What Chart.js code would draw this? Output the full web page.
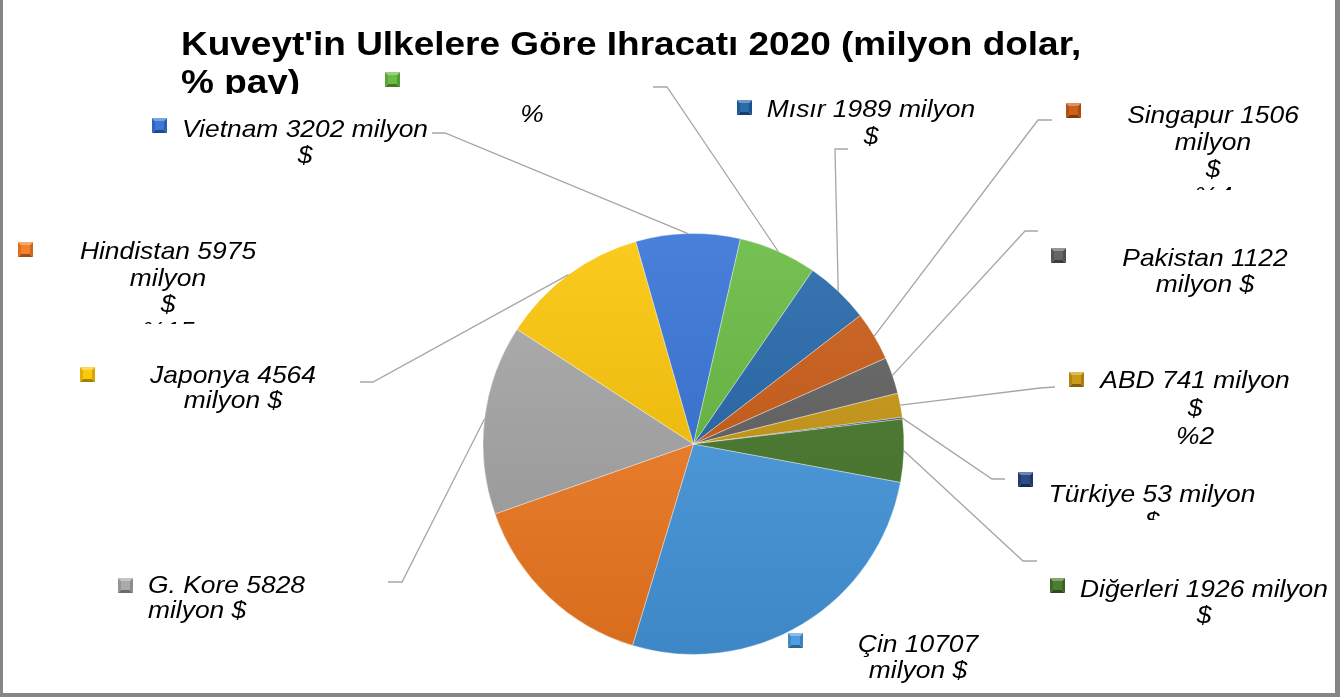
<!DOCTYPE html>
<html>
<head>
<meta charset="utf-8">
<script src="https://cdn.jsdelivr.net/npm/chart.js"></script>
<style>
body{margin:0;background:#fff;overflow:hidden}
canvas{display:block}
</style>
</head>
<body>
<canvas id="myChart" width="1340" height="697"></canvas>
<script>
const countries = ['Çin', 'Hindistan', 'G. Kore', 'Japonya', 'Vietnam', '', 'Mısır', 'Singapur', 'Pakistan', 'ABD', 'Türkiye', 'Diğerleri'];
const values = [10707, 5975, 5828, 4564, 3202, 2400, 1989, 1506, 1122, 741, 53, 1926];
const sliceColors = ['#4699e1', '#f47b20', '#a5a5a5', '#fcc400', '#3070d5', '#62b83b', '#1f63a8', '#c9570f', '#5e5e5e', '#c8950e', '#22427f', '#437628'];
const labelTexts = [
  ['{n} {v}', 'milyon $', '%{p}'],
  ['{n} {v}', 'milyon', '$', '%{p}'],
  ['{n} {v}', 'milyon $', '%{p}'],
  ['{n} {v}', 'milyon $', '%{p}'],
  ['{n} {v} milyon', '$', '%{p}'],
  ['%'],
  ['{n} {v} milyon', '$', '%{p}'],
  ['{n} {v}', 'milyon', '$', '%{p}'],
  ['{n} {v}', 'milyon $', '%{p}'],
  ['{n} {v} milyon', '$', '%{p}'],
  ['{n} {v} milyon', '$', '%{p}'],
  ['{n} {v} milyon', '$', '%{p}']
];
const titleLines = ["Kuveyt'in Ulkelere Göre Ihracatı 2020 (milyon dolar,", '% pay)'];

// where each label box sits: marker, text anchor, line height, clip bottom, leader elbow
const labelBoxes = [
  {m: [788, 633], x: 918, y: 652, lh: 26, clip: 684, align: 'center', lead: null},
  {m: [18, 242], x: 168, y: 259, lh: 26.5, clip: 324, align: 'center', lead: null},
  {m: [118, 578], x: 148, y: 593, lh: 25, clip: 625, align: 'left', lead: [[388, 582], [402, 582]]},
  {m: [80, 367], x: 233, y: 383, lh: 25, clip: 415, align: 'center', lead: [[360, 382], [373, 382]]},
  {m: [152, 118], x: 305, y: 137, lh: 26, clip: 168, align: 'center', lead: [[432, 133], [445, 133]]},
  {m: [385, 72], x: 532, y: 122, lh: 26, clip: 150, align: 'center', lead: [[653, 87], [667, 87]]},
  {m: [737, 100], x: 871, y: 117, lh: 26.5, clip: 148, align: 'center', lead: [[848, 149], [835, 149]]},
  {m: [1066, 103], x: 1213, y: 123, lh: 27, clip: 190, align: 'center', lead: [[1052, 120], [1038, 120]]},
  {m: [1051, 248], x: 1205, y: 266, lh: 26, clip: 298, align: 'center', lead: [[1038, 231], [1025, 231]]},
  {m: [1069, 372], x: 1195, y: 388, lh: 28, clip: 455, align: 'center', lead: [[1055, 387], [1040, 388]]},
  {m: [1018, 472], x: 1152, y: 502, lh: 27, clip: 520, align: 'center', lead: [[1005, 479], [992, 479]]},
  {m: [1050, 578], x: 1204, y: 597, lh: 26, clip: 628, align: 'center', lead: [[1037, 561], [1023, 561]]}
];

const total = values.reduce((a, b) => a + b, 0);

function shade(hex, f) {
  const n = parseInt(hex.slice(1), 16);
  let r = n >> 16, g = (n >> 8) & 255, b = n & 255;
  if (f > 0) {
    r += (255 - r) * f; g += (255 - g) * f; b += (255 - b) * f;
  } else {
    r *= 1 + f; g *= 1 + f; b *= 1 + f;
  }
  return 'rgb(' + Math.round(r) + ',' + Math.round(g) + ',' + Math.round(b) + ')';
}

function stretchText(ctx, str, x, y, align, sx) {
  ctx.save();
  ctx.translate(x, y);
  ctx.scale(sx, 1);
  ctx.textAlign = align;
  ctx.fillText(str, 0, 0);
  ctx.restore();
}

function drawMarker(ctx, x, y, color) {
  const s = 15;
  const cx = x + s / 2, cy = y + s / 2;
  const tri = function (pts, col) {
    ctx.beginPath();
    ctx.moveTo(pts[0], pts[1]);
    ctx.lineTo(pts[2], pts[3]);
    ctx.lineTo(cx, cy);
    ctx.closePath();
    ctx.fillStyle = col;
    ctx.fill();
  };
  tri([x, y, x + s, y], shade(color, 0.35));
  tri([x, y, x, y + s], shade(color, -0.1));
  tri([x + s, y, x + s, y + s], shade(color, -0.15));
  tri([x, y + s, x + s, y + s], shade(color, -0.35));
  ctx.fillStyle = shade(color, 0.05);
  ctx.fillRect(x + 3, y + 3, s - 6, s - 6);
}

const labelsPlugin = {
  id: 'labelsPlugin',
  afterDraw(chart) {
    const ctx = chart.ctx;
    const arcs = chart.getDatasetMeta(0).data;

    // leader lines
    ctx.save();
    ctx.strokeStyle = '#a6a6a6';
    ctx.lineWidth = 1.3;
    labelBoxes.forEach(function (box, i) {
      if (!box.lead) return;
      const a = arcs[i];
      const mid = (a.startAngle + a.endAngle) / 2;
      ctx.beginPath();
      ctx.moveTo(box.lead[0][0], box.lead[0][1]);
      ctx.lineTo(box.lead[1][0], box.lead[1][1]);
      ctx.lineTo(a.x + Math.cos(mid) * a.outerRadius, a.y + Math.sin(mid) * a.outerRadius);
      ctx.stroke();
    });
    ctx.restore();

    // markers and texts
    labelBoxes.forEach(function (box, i) {
      drawMarker(ctx, box.m[0], box.m[1], sliceColors[i]);
      const pct = Math.round(values[i] / total * 100);
      ctx.save();
      ctx.beginPath();
      ctx.rect(0, 0, chart.width, box.clip);
      ctx.clip();
      ctx.fillStyle = '#000';
      ctx.font = 'italic 24px "Liberation Sans", Arial, sans-serif';
      ctx.textBaseline = 'alphabetic';
      labelTexts[i].forEach(function (t, k) {
        const str = t.replace('{n}', countries[i]).replace('{v}', values[i]).replace('{p}', pct);
        stretchText(ctx, str, box.x, box.y + k * box.lh, box.align, 1.1);
      });
      ctx.restore();
    });

    // title
    ctx.save();
    ctx.beginPath();
    ctx.rect(0, 0, chart.width, 94);
    ctx.clip();
    ctx.fillStyle = '#000';
    ctx.font = 'bold 33px "Liberation Sans", Arial, sans-serif';
    ctx.textBaseline = 'alphabetic';
    stretchText(ctx, titleLines[0], 181, 55, 'left', 1.12);
    stretchText(ctx, titleLines[1], 181, 93, 'left', 1.12);
    ctx.restore();

    // outer frame
    ctx.fillStyle = '#868686';
    ctx.fillRect(0, 0, 3, chart.height);
    ctx.fillRect(1335, 0, 5, chart.height);
    ctx.fillRect(0, 693, chart.width, 4);
  }
};

const data = {
  labels: countries,
  datasets: [{
    data: values,
    backgroundColor: function (c) {
      const area = c.chart.chartArea;
      const col = sliceColors[c.dataIndex];
      if (!area) return col;
      const g = c.chart.ctx.createLinearGradient(0, area.top, 0, area.bottom);
      g.addColorStop(0, shade(col, 0.12));
      g.addColorStop(1, shade(col, -0.12));
      return g;
    },
    borderColor: 'rgba(255,255,255,0.35)',
    borderWidth: 1
  }]
};

const config = {
  type: 'pie',
  data: data,
  options: {
    responsive: false,
    animation: false,
    rotation: 100.5,
    layout: {padding: {left: 482, right: 435, top: 233, bottom: 42}},
    plugins: {
      legend: {display: false},
      tooltip: {enabled: false},
      title: {display: false}
    }
  },
  plugins: [labelsPlugin]
};

const myChart = new Chart(document.getElementById('myChart').getContext('2d'), config);
</script>
</body>
</html>
